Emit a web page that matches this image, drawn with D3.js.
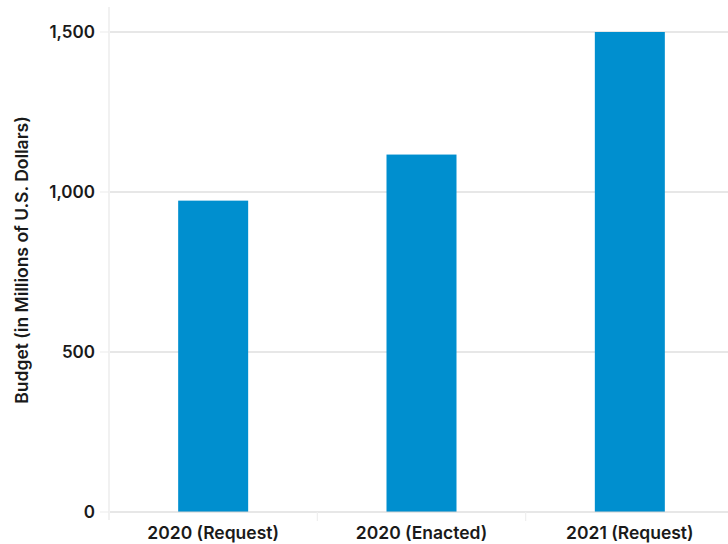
<!DOCTYPE html>
<html><head><meta charset="utf-8">
<script src="https://cdn.jsdelivr.net/npm/d3@7"></script>
<style>
html,body{margin:0;padding:0;background:#fff;}
text{font-family:Inter, "Noto Sans", sans-serif;fill:#1a1a1a;}
</style></head>
<body>
<svg id="chart" width="728" height="544"></svg>
<script>
const categories = ["2020 (Request)", "2020 (Enacted)", "2021 (Request)"];
const budget = [973, 1117, 1500];
const yTicks = [0, 500, 1000, 1500];
const yTitle = "Budget (in Millions of U.S. Dollars)";

const svg = d3.select("#chart");
const mLeft = 109, mRight = 734, mTop = 32, mBottom = 512;

const x = d3.scaleBand().domain(categories).range([mLeft, mRight]).padding(0);
const y = d3.scaleLinear().domain([0, 1500]).range([mBottom, mTop]);

// vertical axis line
svg.append("line").attr("x1", mLeft).attr("x2", mLeft).attr("y1", 7).attr("y2", 520)
  .attr("stroke", "#ececec").attr("stroke-width", 1.5);

// gridlines
svg.append("g").selectAll("line").data(yTicks.filter(d => d > 0)).join("line")
  .attr("x1", mLeft + 1).attr("x2", 728)
  .attr("y1", d => y(d)).attr("y2", d => y(d))
  .attr("stroke", "#cfcfcf").attr("stroke-width", 1.2);
// left tick stubs
svg.append("g").selectAll("line").data(yTicks).join("line")
  .attr("x1", 100).attr("x2", mLeft)
  .attr("y1", d => y(d)).attr("y2", d => y(d))
  .attr("stroke", "#eeeeee").attr("stroke-width", 1.2);

// y labels
svg.append("g").selectAll("text").data(yTicks).join("text")
  .attr("x", 95).attr("y", d => y(d)).attr("dy", "0.35em")
  .attr("text-anchor", "end").attr("font-size", 17).attr("font-weight", 600)
  .text(d => d3.format(",")(d));

// bars
const bw = 70;
svg.append("g").selectAll("rect").data(categories).join("rect")
  .attr("x", (d) => x(d) + x.bandwidth() / 2 - bw / 2)
  .attr("width", bw)
  .attr("y", (d, i) => y(budget[i]))
  .attr("height", (d, i) => y(0) - y(budget[i]))
  .attr("fill", "#008fcf");

// x axis line
svg.append("line").attr("x1", mLeft + 1).attr("x2", 728).attr("y1", y(0)).attr("y2", y(0))
  .attr("stroke", "#cfcfcf").attr("stroke-width", 1.2);
// category separators
svg.append("g").selectAll("line").data(categories.slice(1)).join("line")
  .attr("x1", d => x(d)).attr("x2", d => x(d))
  .attr("y1", y(0)).attr("y2", 521)
  .attr("stroke", "#eeeeee").attr("stroke-width", 1.2);

// x labels
svg.append("g").selectAll("text").data(categories).join("text")
  .attr("x", d => x(d) + x.bandwidth() / 2).attr("y", 539)
  .attr("text-anchor", "middle").attr("font-size", 17.5).attr("font-weight", 600)
  .text(d => d);

// y title
svg.append("text").attr("transform", "translate(28,260) rotate(-90)")
  .attr("text-anchor", "middle").attr("font-size", 17.5).attr("font-weight", 600)
  .text(yTitle);
</script>
</body></html>
